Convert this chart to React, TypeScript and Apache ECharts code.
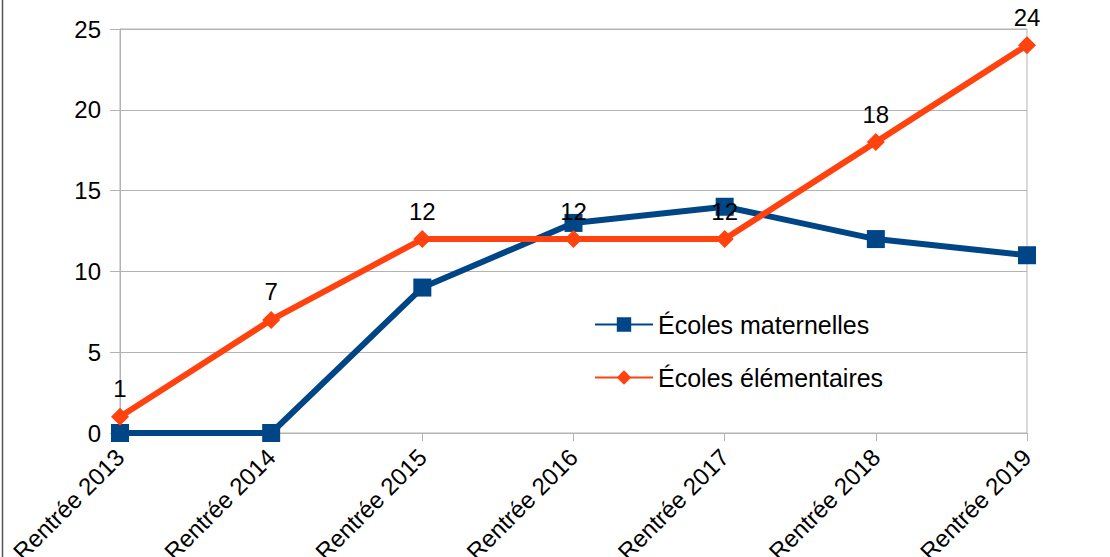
import React, { useEffect, useRef } from "react";
import * as echarts from "echarts";

const categories = ["Rentrée 2013", "Rentrée 2014", "Rentrée 2015", "Rentrée 2016", "Rentrée 2017", "Rentrée 2018", "Rentrée 2019"];
const maternelles = [0, 0, 9, 13, 14, 12, 11];
const elementaires = [1, 7, 12, 12, 12, 18, 24];
const seriesNames = ["Écoles maternelles", "Écoles élémentaires"];

const FONT = "Liberation Sans, Arial, sans-serif";

export default function App() {
  const ref = useRef<HTMLDivElement>(null);
  useEffect(() => {
    if (!ref.current) return;
    const chart = echarts.init(ref.current, null, { renderer: "svg" });
    chart.setOption({
      animation: false,
      backgroundColor: "#ffffff",
      textStyle: { fontFamily: FONT },
      grid: {
        left: 120,
        right: 83,
        top: 29,
        bottom: 124,
        containLabel: false,
        outerBoundsMode: "none",
        show: true,
        borderColor: "#b3b3b3",
        borderWidth: 1,
        backgroundColor: "transparent",
      },
      graphic: [
        {
          type: "line",
          shape: { x1: 2.5, y1: 0, x2: 2.5, y2: 557 },
          style: { stroke: "#555555", lineWidth: 1.5 },
        },
      ],
      legend: {
        orient: "vertical",
        left: 589,
        top: 307,
        itemWidth: 58,
        itemHeight: 18,
        itemGap: 28,
        textStyle: { fontSize: 25, color: "#000", fontFamily: FONT },
        data: seriesNames,
      },
      xAxis: {
        type: "category",
        data: categories,
        boundaryGap: false,
        axisLine: { lineStyle: { color: "#b3b3b3" } },
        axisTick: { show: true, length: 8, lineStyle: { color: "#b3b3b3" } },
        axisLabel: { rotate: 45, fontSize: 24, color: "#000", margin: 20, fontFamily: FONT },
        splitLine: { show: false },
      },
      yAxis: {
        type: "value",
        min: 0,
        max: 25,
        interval: 5,
        axisLine: { show: true, lineStyle: { color: "#b3b3b3" } },
        axisTick: { show: true, length: 10, lineStyle: { color: "#b3b3b3" } },
        axisLabel: { fontSize: 24, color: "#000", margin: 19, fontFamily: FONT },
        splitLine: { lineStyle: { color: "#b3b3b3" } },
      },
      series: [
        {
          name: seriesNames[0],
          type: "line",
          data: maternelles,
          color: "#004586",
          lineStyle: { width: 6, color: "#004586" },
          symbol: "rect",
          symbolSize: 18,
          itemStyle: { color: "#004586" },
          z: 2,
        },
        {
          name: seriesNames[1],
          type: "line",
          data: elementaires,
          color: "#ff420e",
          lineStyle: { width: 6, color: "#ff420e" },
          symbol: "diamond",
          symbolSize: 18,
          itemStyle: { color: "#ff420e" },
          z: 3,
          label: {
            show: true,
            position: "top",
            distance: 7,
            fontSize: 24,
            color: "#000",
            fontFamily: FONT,
          },
        },
      ],
    });
    return () => chart.dispose();
  }, []);
  return (
    <div
      ref={ref}
      style={{ position: "absolute", left: 0, top: 0, width: 1110, height: 557 }}
    />
  );
}
